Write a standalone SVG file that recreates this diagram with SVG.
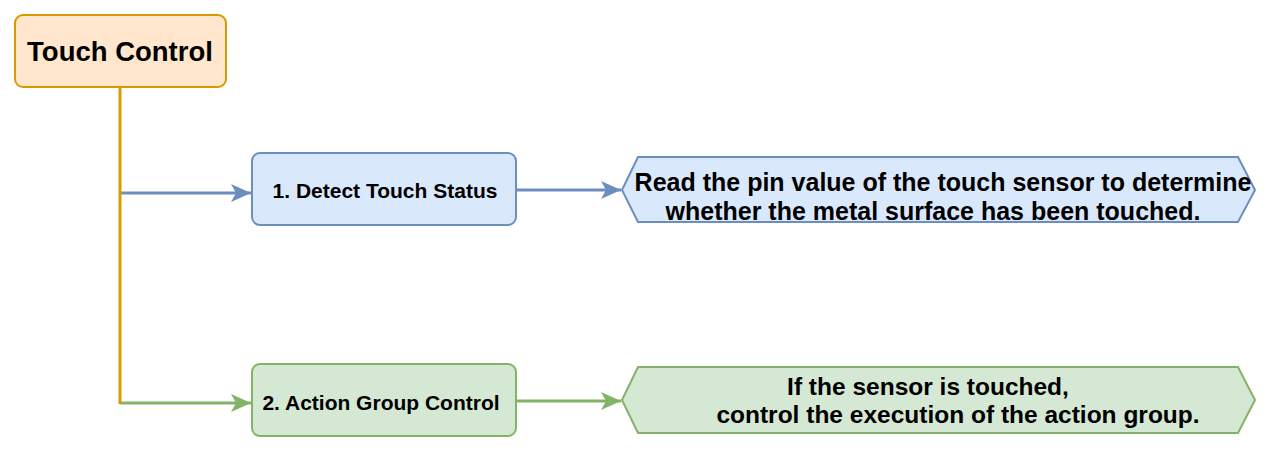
<svg xmlns="http://www.w3.org/2000/svg" width="1268" height="452" viewBox="0 0 1268 452">
<style>
text{font-family:"Liberation Sans",Arial,sans-serif;font-weight:bold;fill:#000;text-anchor:middle;dominant-baseline:central}
.root{fill:#ffe6cc;stroke:#d79b00;stroke-width:2}
.blue{fill:#dae8fc;stroke:#6c8ebf;stroke-width:2}
.green{fill:#d5e8d4;stroke:#82b366;stroke-width:2}
.lb{stroke:#6c8ebf;stroke-width:3;fill:none}
.lg{stroke:#82b366;stroke-width:3;fill:none}
.lo{stroke:#d79b00;stroke-width:3;fill:none}
</style>
<defs>
<marker id="ab" viewBox="0 0 20 18" refX="20" refY="9" markerWidth="20" markerHeight="18" markerUnits="userSpaceOnUse" orient="auto">
<path d="M0,0 L20,9 L0,18 L5,9 Z" fill="#6c8ebf"/>
</marker>
<marker id="ag" viewBox="0 0 20 18" refX="20" refY="9" markerWidth="20" markerHeight="18" markerUnits="userSpaceOnUse" orient="auto">
<path d="M0,0 L20,9 L0,18 L5,9 Z" fill="#82b366"/>
</marker>
</defs>
<rect width="1268" height="452" fill="#ffffff"/>
<g id="connectors">
<path class="lb" d="M120,193 L251,193" marker-end="url(#ab)"/>
<path class="lb" d="M516,190 L621,190" marker-end="url(#ab)"/>
<path class="lg" d="M120,403 L251,403" marker-end="url(#ag)"/>
<path class="lg" d="M516,401 L621,401" marker-end="url(#ag)"/>
<path class="lo" d="M120,87 L120,404"/>
</g>
<g id="touch-control">
<rect class="root" x="15" y="15" width="211" height="72" rx="8"/>
<text x="120" y="51" font-size="27.5">Touch Control</text>
</g>
<g id="detect-touch-status">
<rect class="blue" x="252" y="153" width="264" height="72" rx="8"/>
<text x="385" y="190" font-size="21">1. Detect Touch Status</text>
</g>
<g id="detect-desc">
<polygon class="blue" stroke-width="1" points="622,190 638,157 1238,157 1255,190 1238,222 638,222"/>
<text font-size="25"><tspan x="943" y="182">Read the pin value of the touch sensor to determine</tspan><tspan x="933" y="211">whether the metal surface has been touched.</tspan></text>
</g>
<g id="action-group-control">
<rect class="green" x="252" y="364" width="264" height="72" rx="8"/>
<text x="381" y="402" font-size="21">2. Action Group Control</text>
</g>
<g id="action-desc">
<polygon class="green" stroke-width="1" points="622,400 638,367 1238,367 1255,400 1238,433 638,433"/>
<text font-size="24.5"><tspan x="928" y="386">If the sensor is touched,</tspan><tspan x="958" y="414">control the execution of the action group.</tspan></text>
</g>
</svg>
